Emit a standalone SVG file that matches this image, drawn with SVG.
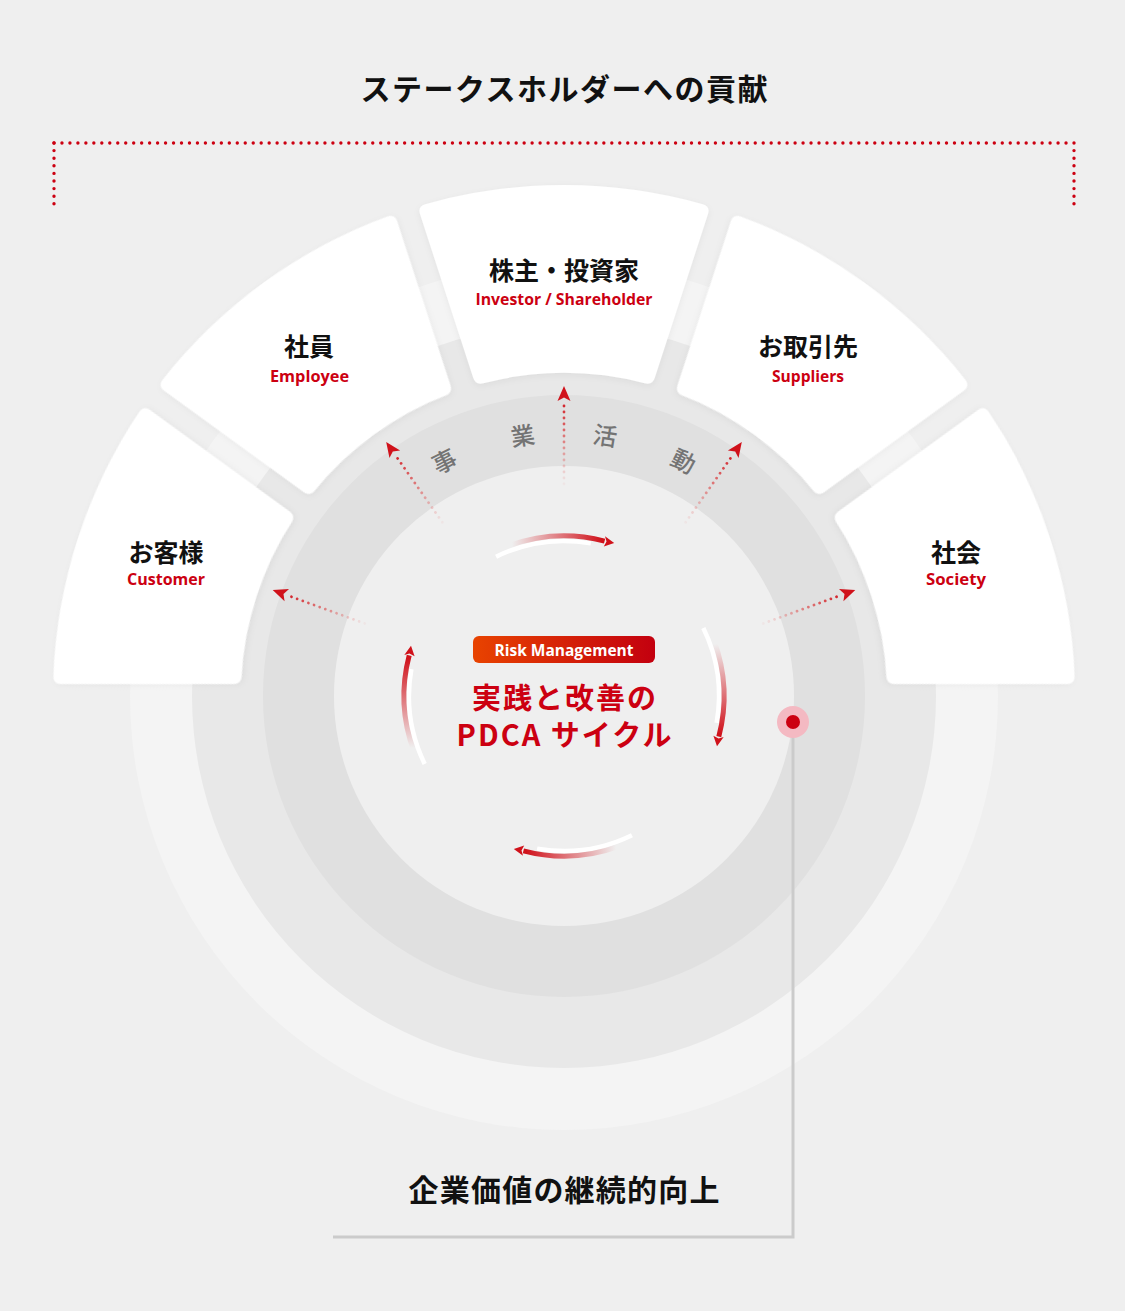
<svg xmlns="http://www.w3.org/2000/svg" xmlns:xlink="http://www.w3.org/1999/xlink" width="1125" height="1311" viewBox="0 0 1125 1311">
<style>
.jp{font-family:"Noto Sans CJK JP","Noto Sans CJK SC",sans-serif;}
.en{font-family:"Open Sans","Noto Sans",sans-serif;font-weight:700;}
.title{font-size:30px;font-weight:700;fill:#111;letter-spacing:1.5px;text-anchor:middle;}
.lbl{font-size:25px;font-weight:700;fill:#111;text-anchor:middle;}
.sub{font-size:16px;fill:#cc0011;text-anchor:middle;}
.ring{font-size:24px;font-weight:500;fill:#747474;text-anchor:middle;dominant-baseline:central;}
.pdca{font-size:29px;font-weight:700;fill:#cc0011;text-anchor:middle;letter-spacing:2px;}
.seg{fill:#fff;filter:url(#sh);}
.bracket{fill:none;stroke:#cc0011;stroke-width:3.4;stroke-linecap:round;}
</style>
<defs>
<filter id="sh" x="-10%" y="-10%" width="120%" height="120%">
<feDropShadow dx="0" dy="2" stdDeviation="3" flood-color="#000" flood-opacity="0.05"/>
</filter>
<path id="seg" d="M-138.76,-491.83 A511,511 0 0 1 138.76,-491.83 Q146.45,-489.59 143.98,-481.98 L90.80,-318.32 Q88.33,-310.71 80.61,-312.80 A323,323 0 0 0 -80.61,-312.80 Q-88.33,-310.71 -90.80,-318.32 L-143.98,-481.98 Q-146.45,-489.59 -138.76,-491.83 Z"/>
<linearGradient id="pill" x1="0" y1="0" x2="1" y2="0">
<stop offset="0" stop-color="#e84300"/>
<stop offset="1" stop-color="#c3000f"/>
</linearGradient>
<linearGradient id="dotGrad" gradientUnits="userSpaceOnUse" x1="564" y1="486" x2="564" y2="398">
<stop offset="0" stop-color="#e87070" stop-opacity="0.05"/>
<stop offset="0.5" stop-color="#dd4444" stop-opacity="0.6"/>
<stop offset="1" stop-color="#d0121b" stop-opacity="1"/>
</linearGradient>
<linearGradient id="pdcaGrad" gradientUnits="userSpaceOnUse" x1="512" y1="545" x2="602" y2="541">
<stop offset="0" stop-color="#d3141d" stop-opacity="0"/>
<stop offset="1" stop-color="#d0121b" stop-opacity="1"/>
</linearGradient>
<g id="dotArrow">
<line x1="564" y1="484" x2="564" y2="400" stroke="url(#dotGrad)" stroke-width="2.8" stroke-linecap="round" stroke-dasharray="0 6"/>
<path d="M564,386 L570.5,401 L564,397.5 L557.5,401 Z" fill="#d0121b"/>
</g>
<g id="pdcaArc">
<path d="M496.05,556.69 A155,155 0 0 1 590.91,543.36" fill="none" stroke="#fff" stroke-width="4.5"/>
<path d="M509.28,545.65 A160,160 0 0 1 604.6,541.2" fill="none" stroke="url(#pdcaGrad)" stroke-width="5"/>
<path d="M614.2,543 L605,536.3 L606.5,541.4 L603.8,546.6 Z" fill="#d0121b"/>
</g>
</defs>

<rect x="0" y="0" width="1125" height="1311" fill="#efefef"/>

<text class="jp title" x="564.75" y="100">ステークスホルダーへの貢献</text>

<g id="bracket">
<line class="bracket" x1="54" y1="143" x2="1074" y2="143" stroke-dasharray="0 7.96875"/>
<line class="bracket" x1="54" y1="143" x2="54" y2="204" stroke-dasharray="0 7.6"/>
<line class="bracket" x1="1074" y1="143" x2="1074" y2="204" stroke-dasharray="0 7.6"/>
</g>

<g id="backdrop">
<circle cx="564" cy="696" r="434" fill="#f4f4f4"/>
<circle cx="564" cy="696" r="372" fill="#e8e8e8"/>
</g>

<g id="node-customer">
<use xlink:href="#seg" class="seg" transform="translate(564,696) rotate(-72)"/>
<text class="jp lbl" x="166" y="562">お客様</text>
<text class="en sub" x="166" y="585" textLength="78" lengthAdjust="spacingAndGlyphs">Customer</text>
</g>
<g id="node-employee">
<use xlink:href="#seg" class="seg" transform="translate(564,696) rotate(-36)"/>
<text class="jp lbl" x="309" y="356">社員</text>
<text class="en sub" x="309.5" y="382" textLength="79" lengthAdjust="spacingAndGlyphs">Employee</text>
</g>
<g id="node-shareholder">
<use xlink:href="#seg" class="seg" transform="translate(564,696)"/>
<text class="jp lbl" x="564" y="280">株主・投資家</text>
<text class="en sub" x="564" y="305" textLength="177" lengthAdjust="spacingAndGlyphs">Investor / Shareholder</text>
</g>
<g id="node-suppliers">
<use xlink:href="#seg" class="seg" transform="translate(564,696) rotate(36)"/>
<text class="jp lbl" x="808" y="356">お取引先</text>
<text class="en sub" x="808" y="382" textLength="72" lengthAdjust="spacingAndGlyphs">Suppliers</text>
</g>
<g id="node-society">
<use xlink:href="#seg" class="seg" transform="translate(564,696) rotate(72)"/>
<text class="jp lbl" x="956" y="562">社会</text>
<text class="en sub" x="956" y="585" textLength="60" lengthAdjust="spacingAndGlyphs">Society</text>
</g>

<g id="node-business">
<circle cx="564" cy="696" r="301" fill="#e0e0e0"/>
<circle cx="564" cy="696" r="230" fill="#efefef"/>
<text class="jp ring" x="564" y="431" transform="rotate(-27 564 696)">事</text>
<text class="jp ring" x="564" y="431" transform="rotate(-9 564 696)">業</text>
<text class="jp ring" x="564" y="431" transform="rotate(9 564 696)">活</text>
<text class="jp ring" x="564" y="431" transform="rotate(27 564 696)">動</text>
</g>

<g id="node-pdca">
<rect x="473" y="636" width="182" height="27" rx="6" fill="url(#pill)"/>
<text class="en" x="564" y="655.5" font-size="15.5" fill="#fff" text-anchor="middle" textLength="139" lengthAdjust="spacingAndGlyphs">Risk Management</text>
<text class="jp pdca"><tspan x="565" y="708.5">実践と改善の</tspan><tspan x="565" y="746">PDCA サイクル</tspan></text>
</g>

<g id="connectors">
<use xlink:href="#dotArrow" transform="rotate(-70 564 696)"/>
<use xlink:href="#dotArrow" transform="rotate(-35 564 696)"/>
<use xlink:href="#dotArrow"/>
<use xlink:href="#dotArrow" transform="rotate(35 564 696)"/>
<use xlink:href="#dotArrow" transform="rotate(70 564 696)"/>
<use xlink:href="#pdcaArc"/>
<use xlink:href="#pdcaArc" transform="rotate(90 564 696)"/>
<use xlink:href="#pdcaArc" transform="rotate(180 564 696)"/>
<use xlink:href="#pdcaArc" transform="rotate(270 564 696)"/>
<polyline points="793,737 793,1237 333,1237" fill="none" stroke="#cbcbcb" stroke-width="3"/>
</g>

<g id="node-marker">
<circle cx="793" cy="722" r="16" fill="#f4b9c2"/>
<circle cx="793" cy="722" r="7" fill="#cc0011"/>
</g>

<g id="node-value">
<text class="jp title" x="564.6" y="1201" style="letter-spacing:1.2px">企業価値の継続的向上</text>
</g>
</svg>
